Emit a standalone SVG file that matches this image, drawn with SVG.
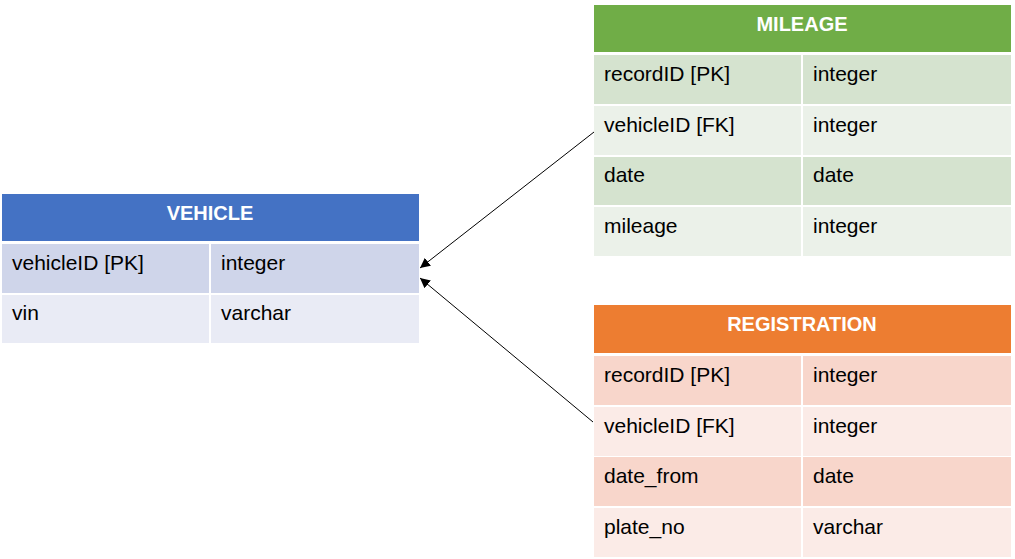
<svg xmlns="http://www.w3.org/2000/svg" width="1015" height="559" viewBox="0 0 1015 559">
<defs>
<marker id="arr" viewBox="0 0 10 10" refX="10" refY="5" markerWidth="10" markerHeight="10" markerUnits="userSpaceOnUse" orient="auto">
<path d="M0,0 L10,5 L0,10 z" fill="#000"/>
</marker>
</defs>
<style>
.t{font-family:"Liberation Sans",Arial,sans-serif;font-size:21px;fill:#000}
.h{font-family:"Liberation Sans",Arial,sans-serif;font-size:20px;font-weight:bold;fill:#fff;text-anchor:middle}
.conn{stroke:#000;stroke-width:1;fill:none;marker-end:url(#arr)}
</style>
<rect width="1015" height="559" fill="#fff"/>
<g id="vehicle">
<rect x="2" y="194" width="417" height="47" fill="#4472C4"/>
<text class="h" x="210" y="220">VEHICLE</text>
<rect x="2" y="244" width="207" height="49" fill="#CFD5EA"/>
<rect x="211" y="244" width="208" height="49" fill="#CFD5EA"/>
<rect x="2" y="295" width="207" height="48" fill="#E9EBF5"/>
<rect x="211" y="295" width="208" height="48" fill="#E9EBF5"/>
<text class="t" x="12" y="270">vehicleID [PK]</text>
<text class="t" x="221" y="270">integer</text>
<text class="t" x="12" y="320">vin</text>
<text class="t" x="221" y="320">varchar</text>
</g>
<g id="mileage">
<rect x="594" y="5" width="417" height="47" fill="#70AD47"/>
<text class="h" x="802" y="31">MILEAGE</text>
<rect x="594" y="55" width="207" height="49" fill="#D5E3CF"/>
<rect x="803" y="55" width="208" height="49" fill="#D5E3CF"/>
<rect x="594" y="106" width="207" height="49" fill="#EBF1E9"/>
<rect x="803" y="106" width="208" height="49" fill="#EBF1E9"/>
<rect x="594" y="157" width="207" height="48" fill="#D5E3CF"/>
<rect x="803" y="157" width="208" height="48" fill="#D5E3CF"/>
<rect x="594" y="207" width="207" height="49" fill="#EBF1E9"/>
<rect x="803" y="207" width="208" height="49" fill="#EBF1E9"/>
<text class="t" x="604" y="81">recordID [PK]</text>
<text class="t" x="813" y="81">integer</text>
<text class="t" x="604" y="132">vehicleID [FK]</text>
<text class="t" x="813" y="132">integer</text>
<text class="t" x="604" y="182">date</text>
<text class="t" x="813" y="182">date</text>
<text class="t" x="604" y="233">mileage</text>
<text class="t" x="813" y="233">integer</text>
</g>
<g id="registration">
<rect x="594" y="305" width="417" height="48" fill="#ED7D31"/>
<text class="h" x="802" y="331">REGISTRATION</text>
<rect x="594" y="356" width="207" height="49" fill="#F8D6CB"/>
<rect x="803" y="356" width="208" height="49" fill="#F8D6CB"/>
<rect x="594" y="407" width="207" height="49" fill="#FBEBE7"/>
<rect x="803" y="407" width="208" height="49" fill="#FBEBE7"/>
<rect x="594" y="457" width="207" height="49" fill="#F8D6CB"/>
<rect x="803" y="457" width="208" height="49" fill="#F8D6CB"/>
<rect x="594" y="508" width="207" height="49" fill="#FBEBE7"/>
<rect x="803" y="508" width="208" height="49" fill="#FBEBE7"/>
<text class="t" x="604" y="382">recordID [PK]</text>
<text class="t" x="813" y="382">integer</text>
<text class="t" x="604" y="433">vehicleID [FK]</text>
<text class="t" x="813" y="433">integer</text>
<text class="t" x="604" y="483">date_from</text>
<text class="t" x="813" y="483">date</text>
<text class="t" x="604" y="534">plate_no</text>
<text class="t" x="813" y="534">varchar</text>
</g>
<g id="connectors">
<line class="conn" x1="594" y1="132" x2="420" y2="268"/>
<line class="conn" x1="593" y1="422" x2="420" y2="278"/>
</g>
</svg>
